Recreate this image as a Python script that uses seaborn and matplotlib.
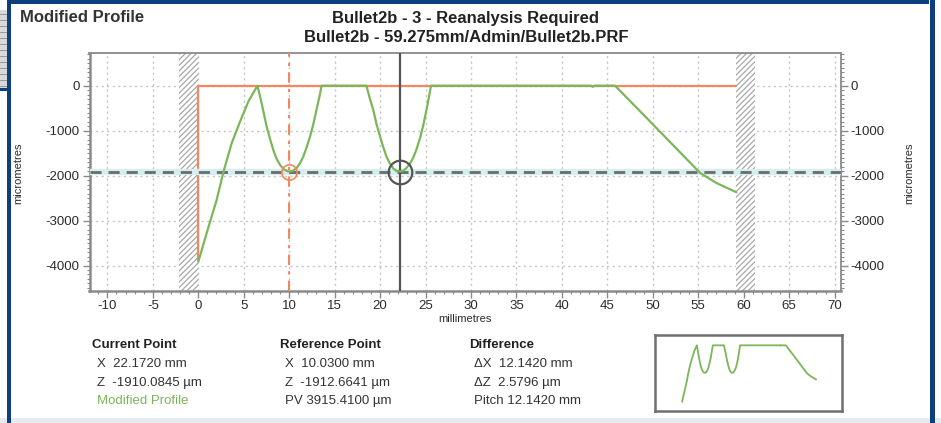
import matplotlib
matplotlib.use("Agg")
import matplotlib.pyplot as plt
import seaborn as sns
import numpy as np
import pandas as pd
from matplotlib.patches import Rectangle
from matplotlib.ticker import MultipleLocator

# ---------------- data ----------------
profile_x = [0.0, 0.92, 2.02, 2.75, 3.67, 4.59, 5.5, 6.5,
             6.75, 6.97, 7.25, 7.52, 7.9, 8.25, 8.6, 8.99, 9.35, 9.72, 10.03,
             10.4, 10.82, 11.2, 11.55, 11.9, 12.29, 12.65, 13.0, 13.3, 13.57,
             18.5, 18.85, 19.25, 19.6, 20.0, 20.35, 20.7, 21.05, 21.45, 21.8, 22.17,
             22.55, 22.9, 23.3, 23.65, 24.0, 24.4, 24.75, 25.1, 25.35, 25.6,
             43.2, 43.4, 43.6, 45.85, 50.4, 55.2, 57.0, 59.2]
profile_z = [-3915, -3280, -2540, -1930, -1280, -800, -355, 0,
             -200, -391, -660, -911, -1190, -1429, -1620, -1762, -1850, -1895, -1912,
             -1895, -1830, -1720, -1578, -1380, -1133, -860, -540, -270, 0,
             0, -270, -540, -850, -1133, -1370, -1578, -1720, -1840, -1895, -1910,
             -1890, -1830, -1730, -1600, -1420, -1160, -880, -540, -280, 0,
             0, -25, 0, 0, -941, -1940, -2165, -2370]

reference_x = [0.0, 0.0, 59.2]
reference_z = [-3870, 0, 0]

current_point = (22.172, -1910.0845)
reference_point = (10.03, -1912.6641)
hatch_bands = [(-2.1, 0.0), (59.2, 61.2)]

x_ticks = [-10, -5, 0, 5, 10, 15, 20, 25, 30, 35, 40, 45, 50, 55, 60, 65, 70]
y_ticks = [0, -1000, -2000, -3000, -4000]

title_lines = ["Bullet2b - 3 - Reanalysis Required",
               "Bullet2b - 59.275mm/Admin/Bullet2b.PRF"]
col_current = ["Current Point", "X  22.1720 mm", "Z  -1910.0845 µm", "Modified Profile"]
col_reference = ["Reference Point", "X  10.0300 mm", "Z  -1912.6641 µm", "PV 3915.4100 µm"]
col_difference = ["Difference", "ΔX  12.1420 mm", "ΔZ  2.5796 µm", "Pitch 12.1420 mm"]

# ---------------- style ----------------
sns.set_theme(style="white")
plt.rcParams['font.family'] = ['Liberation Sans', 'DejaVu Sans']
plt.rcParams['hatch.linewidth'] = 0.9

GREEN = "#7cb65a"
ORANGE = "#f4875e"
DARK = "#555555"
TXT = "#2b2b2b"
SPINE = "#8a8a8a"
BLUE = "#0d3f7f"

W, H = 941, 423
fig = plt.figure(figsize=(W / 100, H / 100), dpi=100)
fig.patch.set_facecolor("white")

def fx(px):
    return px / W

def fy(py):
    return 1 - py / H

# frame decorations
fig.patches.append(Rectangle((fx(0), fy(423)), fx(941), 5 / H, transform=fig.transFigure,
                             facecolor="#e4eaf0", edgecolor="none", zorder=0))
fig.patches.append(Rectangle((fx(7), fy(4)), fx(929 - 7), 4 / H, transform=fig.transFigure,
                             facecolor=BLUE, edgecolor="none", zorder=0))
fig.patches.append(Rectangle((fx(7), fy(423)), 3.5 / W, 423 / H, transform=fig.transFigure,
                             facecolor=BLUE, edgecolor="none", zorder=0))
fig.patches.append(Rectangle((fx(930), fy(423)), 5 / W, 423 / H, transform=fig.transFigure,
                             facecolor=BLUE, edgecolor="none", zorder=0))
fig.patches.append(Rectangle((fx(0), fy(88)), 7 / W, 78 / H, transform=fig.transFigure,
                             facecolor="#d9d9d9", edgecolor="none", zorder=0))
for yy in range(14, 88, 6):
    fig.patches.append(Rectangle((fx(0), fy(yy + 1)), 7 / W, 1.2 / H, transform=fig.transFigure,
                                 facecolor="#9a9a9a", edgecolor="none", zorder=0))
fig.patches.append(Rectangle((fx(0), fy(91)), 8 / W, 2.5 / H, transform=fig.transFigure,
                             facecolor=BLUE, edgecolor="none", zorder=0))

# ---------------- main axes ----------------
ax = fig.add_axes([fx(89.5), fy(290.5), (840.5 - 89.5) / W, (290.5 - 53.5) / H])
ax.set_xlim(-11.97, 70.65)
ax.set_ylim(-4556, 716)

ax.grid(True, which="major", linestyle=(0, (1.5, 2.5)), color="#c4c4c4", linewidth=1.0)

for a, b in hatch_bands:
    ax.axvspan(a, b, facecolor="white", edgecolor="#a8a8a8", hatch="//////", linewidth=0, zorder=2)

ref_df = pd.DataFrame({"x": reference_x, "z": reference_z})
sns.lineplot(data=ref_df, x="x", y="z", sort=False, estimator=None, color=ORANGE,
             linewidth=1.6, ax=ax, zorder=3)

ax.axhline(current_point[1], color="#d6eeef", linewidth=4.5, zorder=3)
ax.axhline(current_point[1], color="#6b6b6b", linewidth=2.0, linestyle=(0, (4, 2.5)), zorder=4)
ax.axvline(reference_point[0], color=ORANGE, linewidth=1.5, linestyle=(0, (5, 3, 1.5, 3)), zorder=4)
ax.axvline(current_point[0], color=DARK, linewidth=1.6, zorder=5)

prof_df = pd.DataFrame({"x": profile_x, "z": profile_z})
sns.lineplot(data=prof_df, x="x", y="z", sort=False, estimator=None, color=GREEN,
             linewidth=1.6, ax=ax, zorder=6)

ax.plot([reference_point[0]], [reference_point[1]], marker="o", markersize=11, markerfacecolor="none",
        markeredgecolor=ORANGE, markeredgewidth=1.2, linestyle="none", zorder=7)
ax.plot([current_point[0]], [current_point[1]], marker="o", markersize=17, markerfacecolor="none",
        markeredgecolor=DARK, markeredgewidth=1.6, linestyle="none", zorder=7)

ax.set_xticks(x_ticks)
ax.set_xticklabels([str(t) for t in x_ticks])
ax.set_yticks(y_ticks)
ax.set_yticklabels([str(t) for t in y_ticks])
ax.xaxis.set_minor_locator(MultipleLocator(1))
ax.yaxis.set_minor_locator(MultipleLocator(100))
ax.tick_params(axis="both", which="major", direction="out", length=5, width=1, color=SPINE,
               labelsize=9.5, labelcolor=TXT, pad=2)
ax.tick_params(axis="both", which="minor", direction="out", length=2.5, width=0.8, color=SPINE)
ax.tick_params(axis="y", which="both", left=True, right=True, labelleft=True, labelright=True)
ax.tick_params(axis="x", which="both", bottom=True)
for side, sp in ax.spines.items():
    sp.set_color(SPINE)
    sp.set_linewidth(1.8 if side in ("left", "bottom") else 1.3)

ax.set_xlabel("millimetres", fontsize=8, color=TXT, labelpad=1)
ax.set_ylabel("")

fig.text(fx(18), fy(173), "micrometres", rotation=90, fontsize=8, color=TXT, ha="center", va="center")
fig.text(fx(909), fy(173), "micrometres", rotation=90, fontsize=8, color=TXT, ha="center", va="center")

# ---------------- titles ----------------
fig.text(fx(20), fy(18), "Modified Profile", fontsize=12, fontweight="bold", color="#333333",
         ha="left", va="center")
fig.text(fx(466), fy(19), title_lines[0], fontsize=12, fontweight="bold", color="#222222",
         ha="center", va="center")
fig.text(fx(466), fy(38), title_lines[1], fontsize=12, fontweight="bold", color="#222222",
         ha="center", va="center")

# ---------------- info columns ----------------
rows_y = [345, 364, 382.5, 401]
for col, x0 in ((col_current, 92), (col_reference, 280), (col_difference, 469)):
    for i, (t, yy) in enumerate(zip(col, rows_y)):
        if i == 0:
            fig.text(fx(x0), fy(yy), t, fontsize=9.5, fontweight="bold", color="#222222",
                     ha="left", va="center")
        else:
            color = GREEN if (col is col_current and i == 3) else "#333333"
            fig.text(fx(x0 + 5), fy(yy), t, fontsize=9.5, color=color, ha="left", va="center")

# ---------------- overview inset ----------------
ins = fig.add_axes([fx(655), fy(411), (842 - 655) / W, (411 - 335) / H])
sns.lineplot(data=prof_df, x="x", y="z", sort=False, estimator=None, color=GREEN,
             linewidth=1.3, ax=ins)
ins.set_xlim(-11.97, 70.65)
ins.set_ylim(-4556, 716)
ins.set_xticks([])
ins.set_yticks([])
ins.set_xlabel("")
ins.set_ylabel("")
for sp in ins.spines.values():
    sp.set_color("#6f6f6f")
    sp.set_linewidth(1.8)

fig.savefig("out.png", dpi=100, facecolor="white")
